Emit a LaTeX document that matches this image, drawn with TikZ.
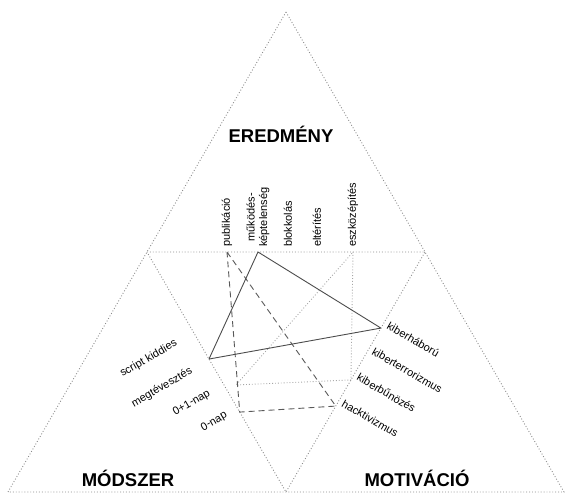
\documentclass[tikz,border=0pt]{standalone}
\usepackage{fontspec}
\setmainfont{Liberation Sans}
\usetikzlibrary{calc}
\begin{document}
\begin{tikzpicture}[x=1pt,y=-1pt,
  frame/.style={black!45, dotted, line width=0.9pt},
  solidtri/.style={black!70, line width=0.9pt, line join=round},
  dashtri/.style={black!65, line width=0.9pt, dash pattern=on 6pt off 4pt},
  dottri/.style={black!35, dotted, line width=0.9pt},
  lab/.style={inner sep=0pt, font=\fontsize{11}{12.5}\selectfont},
  toplab/.style={lab, rotate=90, anchor=west, align=center},
  leftlab/.style={lab, rotate=30, anchor=east},
  rightlab/.style={lab, rotate=-30, anchor=west},
  title/.style={inner sep=0pt, anchor=base, font=\bfseries\fontsize{18.5}{20}\selectfont}]
\useasboundingbox (0,0) rectangle (565,494);
% outer and inner triangles
\coordinate (A) at (286,12);
\coordinate (BL) at (8,492);
\coordinate (BR) at (564,492);
\coordinate (ML) at (147,252);
\coordinate (MR) at (425,252);
\coordinate (MB) at (286,492);
\draw[frame] (A) -- (BR) -- (BL) -- cycle;
\draw[frame] (ML) -- (MR) -- (MB) -- cycle;
% titles
\node[title] (ered) at (281,143) {EREDMÉNY};
\node[title] (mod) at (128,486) {MÓDSZER};
\node[title] (mot) at (417,486) {MOTIVÁCIÓ};
% top axis points
\coordinate (pub) at (227,252);
\coordinate (muk) at (258,252);
\coordinate (blo) at (288,252);
\coordinate (elt) at (317,252);
\coordinate (esz) at (353,252);
\node[toplab] (lpub) at (227,247) {publikáció};
\node[toplab] (lmuk) at (258,247) {működés-\\képtelenség};
\node[toplab] (lblo) at (288,247) {blokkolás};
\node[toplab] (lelt) at (317,247) {eltérítés};
\node[toplab] (lesz) at (353,247) {eszközépítés};
% left axis points
\coordinate (scr) at ($(ML)!0.446!(MB)$);
\coordinate (nul) at ($(ML)!0.667!(MB)$);
\coordinate (dotl) at (236,385);
\node[leftlab] (lscr) at (176.5,342.5) {script kiddies};
\node[leftlab] (lmeg) at (191.5,370.5) {megtévesztés};
\node[leftlab] (lnup) at (209.5,392.5) {0+1-nap};
\node[leftlab] (lnul) at (226.5,414.5) {0-nap};
% right axis points
\coordinate (khab) at ($(MR)!0.317!(MB)$);
\coordinate (kter) at ($(MR)!0.425!(MB)$);
\coordinate (kbun) at ($(MR)!0.533!(MB)$);
\coordinate (hack) at ($(MR)!0.642!(MB)$);
\node[rightlab] (lkhab) at ($(khab)+(7,-3.5)$) {kiberháború};
\node[rightlab] (lkter) at ($(kter)+(7,-3.5)$) {kiberterrorizmus};
\node[rightlab] (lkbun) at ($(kbun)+(7,-3.5)$) {kiberbűnözés};
\node[rightlab] (lhack) at ($(hack)+(7,-3.5)$) {hacktivizmus};
% triangles
\draw[dottri] (esz) -- (kbun) -- (dotl) -- cycle;
\draw[dashtri] (pub) -- (hack) -- (nul) -- cycle;
\draw[solidtri] (muk) -- (khab) -- (scr) -- cycle;
\end{tikzpicture}
\end{document}
